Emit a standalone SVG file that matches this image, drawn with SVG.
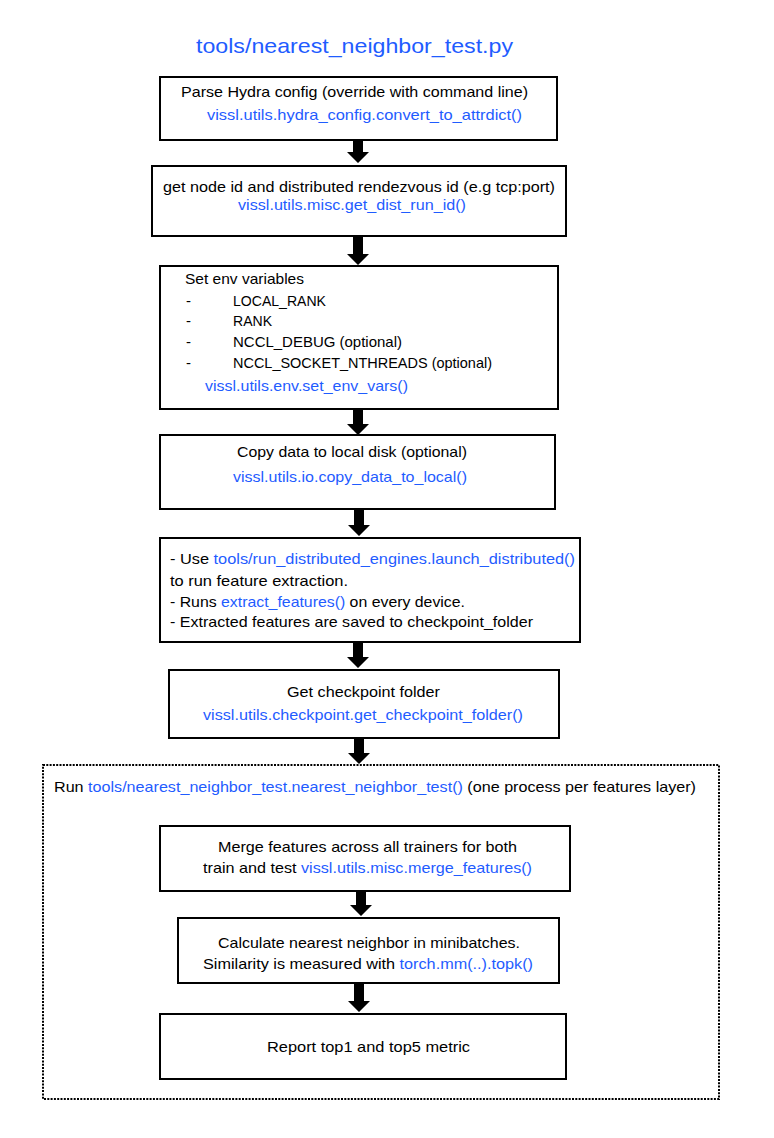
<svg xmlns="http://www.w3.org/2000/svg" width="774" height="1138" viewBox="0 0 774 1138">
<style>
.box{fill:#fff;stroke:#000;stroke-width:2}
.t{font-family:"Liberation Sans",Arial,sans-serif;font-size:15px;fill:#000}
.b{fill:#1f5cff}
.title{font-family:"Liberation Sans",Arial,sans-serif;font-size:21px;fill:#1f5cff}
.arr{fill:#000}
.dot{fill:none;stroke:#000;stroke-width:2;stroke-dasharray:2 1.3}
</style>
<rect width="774" height="1138" fill="#fff"/>
<text class="title" x="196" y="53" textLength="317" lengthAdjust="spacingAndGlyphs">tools/nearest_neighbor_test.py</text>

<g id="group-knn">
<rect class="dot" x="43" y="765" width="676" height="334"/>
<text class="t" x="54" y="792" textLength="642" lengthAdjust="spacingAndGlyphs">Run <tspan class="b">tools/nearest_neighbor_test.nearest_neighbor_test()</tspan> (one process per features layer)</text>
</g>

<g id="node-parse">
<rect class="box" x="160" y="77" width="397" height="63"/>
<text class="t" x="181" y="97" textLength="347" lengthAdjust="spacingAndGlyphs">Parse Hydra config (override with command line)</text>
<text class="t b" x="207" y="120" textLength="315" lengthAdjust="spacingAndGlyphs">vissl.utils.hydra_config.convert_to_attrdict()</text>
</g>

<g id="node-distid">
<rect class="box" x="152" y="166" width="414" height="70"/>
<text class="t" x="163" y="192" textLength="392" lengthAdjust="spacingAndGlyphs">get node id and distributed rendezvous id (e.g tcp:port)</text>
<text class="t b" x="238" y="210" textLength="228" lengthAdjust="spacingAndGlyphs">vissl.utils.misc.get_dist_run_id()</text>
</g>

<g id="node-env">
<rect class="box" x="160" y="266" width="398" height="143"/>
<text class="t" x="185" y="284" textLength="119" lengthAdjust="spacingAndGlyphs">Set env variables</text>
<text class="t" x="186" y="306">-</text>
<text class="t" x="233" y="306" textLength="93" lengthAdjust="spacingAndGlyphs">LOCAL_RANK</text>
<text class="t" x="186" y="326">-</text>
<text class="t" x="233" y="326" textLength="39" lengthAdjust="spacingAndGlyphs">RANK</text>
<text class="t" x="186" y="347">-</text>
<text class="t" x="233" y="347" textLength="169" lengthAdjust="spacingAndGlyphs">NCCL_DEBUG (optional)</text>
<text class="t" x="186" y="368">-</text>
<text class="t" x="233" y="368" textLength="259" lengthAdjust="spacingAndGlyphs">NCCL_SOCKET_NTHREADS (optional)</text>
<text class="t b" x="205" y="391" textLength="203" lengthAdjust="spacingAndGlyphs">vissl.utils.env.set_env_vars()</text>
</g>

<g id="node-copy">
<rect class="box" x="160" y="435" width="395" height="74"/>
<text class="t" x="237" y="457" textLength="230" lengthAdjust="spacingAndGlyphs">Copy data to local disk (optional)</text>
<text class="t b" x="233" y="482" textLength="234" lengthAdjust="spacingAndGlyphs">vissl.utils.io.copy_data_to_local()</text>
</g>

<g id="node-extract">
<rect class="box" x="160" y="538" width="420" height="104"/>
<text class="t" x="170" y="564" textLength="405" lengthAdjust="spacingAndGlyphs">- Use <tspan class="b">tools/run_distributed_engines.launch_distributed()</tspan></text>
<text class="t" x="170" y="586" textLength="178" lengthAdjust="spacingAndGlyphs">to run feature extraction.</text>
<text class="t" x="170" y="607" textLength="295" lengthAdjust="spacingAndGlyphs">- Runs <tspan class="b">extract_features()</tspan> on every device.</text>
<text class="t" x="170" y="627" textLength="363" lengthAdjust="spacingAndGlyphs">- Extracted features are saved to checkpoint_folder</text>
</g>

<g id="node-ckpt">
<rect class="box" x="169" y="670" width="390" height="68"/>
<text class="t" x="287" y="697" textLength="153" lengthAdjust="spacingAndGlyphs">Get checkpoint folder</text>
<text class="t b" x="203" y="720" textLength="320" lengthAdjust="spacingAndGlyphs">vissl.utils.checkpoint.get_checkpoint_folder()</text>
</g>

<g id="node-merge">
<rect class="box" x="160" y="826" width="410" height="65"/>
<text class="t" x="218" y="852" textLength="299" lengthAdjust="spacingAndGlyphs">Merge features across all trainers for both</text>
<text class="t" x="203" y="873" textLength="329" lengthAdjust="spacingAndGlyphs">train and test <tspan class="b">vissl.utils.misc.merge_features()</tspan></text>
</g>

<g id="node-nn">
<rect class="box" x="178" y="918" width="381" height="65"/>
<text class="t" x="218" y="948" textLength="302" lengthAdjust="spacingAndGlyphs">Calculate nearest neighbor in minibatches.</text>
<text class="t" x="203" y="969" textLength="330" lengthAdjust="spacingAndGlyphs">Similarity is measured with <tspan class="b">torch.mm(..).topk()</tspan></text>
</g>

<g id="node-report">
<rect class="box" x="160" y="1014" width="406" height="65"/>
<text class="t" x="267" y="1052" textLength="203" lengthAdjust="spacingAndGlyphs">Report top1 and top5 metric</text>
</g>

<g id="connectors">
<polygon class="arr" points="353,141 363,141 363,152 369,152 358,163 347,152 353,152"/>
<polygon class="arr" points="353,237 363,237 363,254 369,254 358,265 347,254 353,254"/>
<polygon class="arr" points="353,409 363,409 363,424 369,424 358,435 347,424 353,424"/>
<polygon class="arr" points="354,510 364,510 364,525 370,525 359,536 348,525 354,525"/>
<polygon class="arr" points="353,642 363,642 363,657 369,657 358,668 347,657 353,657"/>
<polygon class="arr" points="354,738 364,738 364,753 370,753 359,764 348,753 354,753"/>
<polygon class="arr" points="356,891 366,891 366,905 372,905 361,916 350,905 356,905"/>
<polygon class="arr" points="354,983 364,983 364,1001 370,1001 359,1012 348,1001 354,1001"/>
</g>
</svg>
